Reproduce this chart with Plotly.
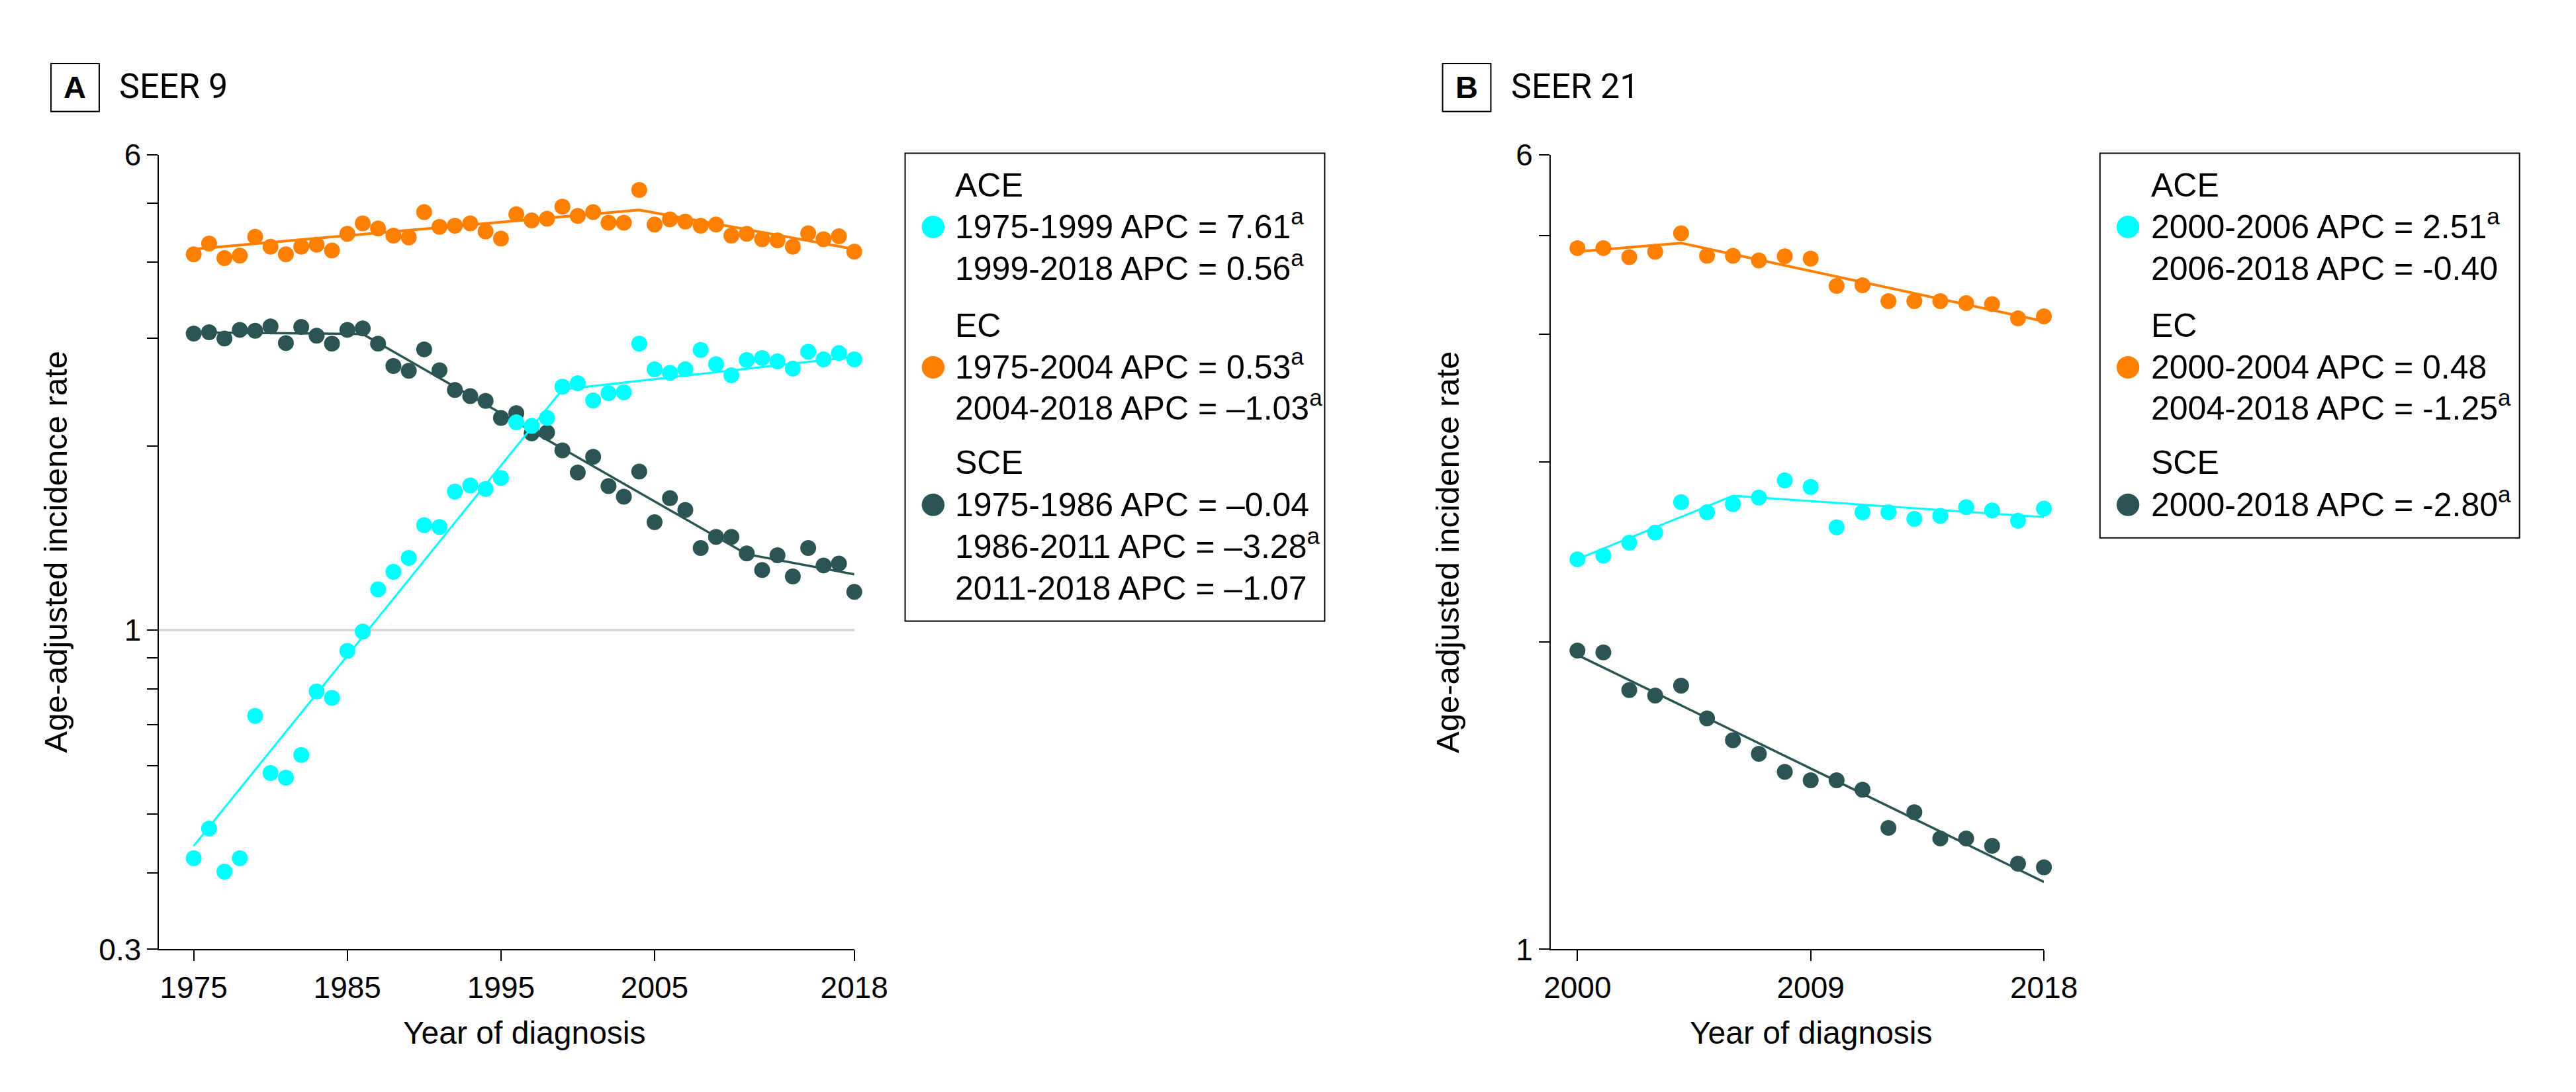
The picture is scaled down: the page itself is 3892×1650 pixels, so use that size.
import math
import plotly.graph_objects as go

W, H = 3892, 1650

# ---------------- data ----------------
years_a = list(range(1975, 2019))
ace_a = [0.423, 0.473, 0.402, 0.423, 0.723, 0.583, 0.573, 0.624, 0.793, 0.774,
         0.924, 0.994, 1.165, 1.245, 1.312, 1.484, 1.474, 1.684, 1.724, 1.701,
         1.773, 2.187, 2.157, 2.223, 2.502, 2.534, 2.375, 2.441, 2.449, 2.942,
         2.670, 2.635, 2.670, 2.872, 2.722, 2.612, 2.766, 2.787, 2.752, 2.678,
         2.854, 2.772, 2.839, 2.772]
ec_a = [4.12, 4.29, 4.06, 4.10, 4.40, 4.24, 4.12, 4.24, 4.27, 4.18,
        4.45, 4.63, 4.54, 4.42, 4.39, 4.83, 4.57, 4.59, 4.63, 4.49,
        4.37, 4.79, 4.68, 4.71, 4.93, 4.76, 4.83, 4.64, 4.64, 5.25,
        4.61, 4.70, 4.66, 4.59, 4.61, 4.42, 4.45, 4.36, 4.34, 4.24,
        4.46, 4.36, 4.41, 4.16]
sce_a = [3.055, 3.071, 2.999, 3.098, 3.088, 3.139, 2.948, 3.132, 3.031, 2.942,
         3.098, 3.115, 2.942, 2.704, 2.655, 2.879, 2.661, 2.470, 2.414, 2.371,
         2.223, 2.264, 2.098, 2.105, 1.967, 1.810, 1.920, 1.719, 1.652, 1.816,
         1.501, 1.643, 1.572, 1.362, 1.420, 1.420, 1.334, 1.253, 1.325, 1.223,
         1.362, 1.275, 1.284, 1.154]

# joinpoint fitted lines (joinpoint years and fitted values)
ace_a_fit_x = [1975, 1999, 2018]
ace_a_fit_y = [0.443, 2.475, 2.80]
ec_a_fit_x = [1975, 2004, 2018]
ec_a_fit_y = [4.20, 4.87, 4.20]
sce_a_fit_x = [1975, 1986, 2011, 2018]
sce_a_fit_y = [3.07, 3.05, 1.33, 1.233]

years_b = list(range(2000, 2019))
ace_b = [2.409, 2.429, 2.501, 2.559, 2.740, 2.679, 2.728, 2.769, 2.879, 2.836,
         2.589, 2.679, 2.679, 2.639, 2.657, 2.710, 2.690, 2.628, 2.701]
ec_b = [4.859, 4.859, 4.762, 4.818, 5.024, 4.775, 4.775, 4.726, 4.771, 4.745,
        4.462, 4.468, 4.311, 4.311, 4.311, 4.292, 4.283, 4.147, 4.166]
sce_b = [1.961, 1.953, 1.794, 1.772, 1.812, 1.683, 1.602, 1.554, 1.492, 1.464,
         1.464, 1.433, 1.315, 1.362, 1.284, 1.284, 1.263, 1.213, 1.203]

ace_b_fit_x = [2000, 2006, 2018]
ace_b_fit_y = [2.41, 2.78, 2.65]
ec_b_fit_x = [2000, 2004, 2018]
ec_b_fit_y = [4.82, 4.915, 4.12]
sce_b_fit_x = [2000, 2018]
sce_b_fit_y = [1.942, 1.164]

xticks_a = [1975, 1985, 1995, 2005, 2018]
xticks_b = [2000, 2009, 2018]
yticks_a = [0.3, 1, 6]
yticks_a_text = ["0.3", "1", "6"]
yminor_a = [0.4, 0.5, 0.6, 0.7, 0.8, 0.9, 2, 3, 4, 5]
yticks_b = [1, 6]
yticks_b_text = ["1", "6"]
yminor_b = [2, 3, 4, 5]

legend_a = [
    ("ACE", ["1975-1999 APC = 7.61<sup>a</sup>", "1999-2018 APC = 0.56<sup>a</sup>"]),
    ("EC", ["1975-2004 APC = 0.53<sup>a</sup>", "2004-2018 APC = \u20131.03<sup>a</sup>"]),
    ("SCE", ["1975-1986 APC = \u20130.04", "1986-2011 APC = \u20133.28<sup>a</sup>",
             "2011-2018 APC = \u20131.07"]),
]
legend_b = [
    ("ACE", ["2000-2006 APC = 2.51<sup>a</sup>", "2006-2018 APC = -0.40"]),
    ("EC", ["2000-2004 APC = 0.48", "2004-2018 APC = -1.25<sup>a</sup>"]),
    ("SCE", ["2000-2018 APC = -2.80<sup>a</sup>"]),
]

# ---------------- style ----------------
CYAN = "#00FFFF"
ORANGE = "#FF8000"
TEAL = "#2A5553"
GRID = "#D9D9D9"
FONT = "Liberation Sans, Arial, sans-serif"
TITLEFONT = "Roboto, Liberation Sans, Arial, sans-serif"


def px(x):
    return x / W


def py(y):
    return 1 - y / H


fig = go.Figure()

MS = 24


def add_series(xs, ys, fx, fy, color, lw, xa, ya):
    fig.add_trace(go.Scatter(x=xs, y=ys, mode="markers", xaxis=xa, yaxis=ya,
                             marker=dict(size=MS, color=color, line=dict(width=0)),
                             cliponaxis=False, showlegend=False, hoverinfo="skip"))
    fig.add_trace(go.Scatter(x=fx, y=fy, mode="lines", xaxis=xa, yaxis=ya,
                             line=dict(color=color, width=lw),
                             cliponaxis=False, showlegend=False, hoverinfo="skip"))


add_series(years_a, ec_a, ec_a_fit_x, ec_a_fit_y, ORANGE, 4, "x", "y")
add_series(years_a, sce_a, sce_a_fit_x, sce_a_fit_y, TEAL, 3.5, "x", "y")
add_series(years_a, ace_a, ace_a_fit_x, ace_a_fit_y, CYAN, 3, "x", "y")

add_series(years_b, ec_b, ec_b_fit_x, ec_b_fit_y, ORANGE, 4, "x2", "y2")
add_series(years_b, sce_b, sce_b_fit_x, sce_b_fit_y, TEAL, 3.5, "x2", "y2")
add_series(years_b, ace_b, ace_b_fit_x, ace_b_fit_y, CYAN, 3, "x2", "y2")

TICKFONT = dict(family=FONT, size=46, color="black")


def xaxis_cfg(dom, rng, tv, anchor):
    return dict(domain=dom, range=rng, tickvals=tv, ticktext=[str(t) for t in tv],
                ticks="outside", ticklen=16, tickwidth=2, tickcolor="black",
                showline=True, linewidth=2, linecolor="black", showgrid=False,
                zeroline=False, anchor=anchor, tickfont=TICKFONT, fixedrange=True)


def yaxis_cfg(dom, rng, tv, tt, minor, anchor):
    return dict(type="log", domain=dom, range=rng, tickvals=tv, ticktext=tt,
                ticks="outside", ticklen=16, tickwidth=2, tickcolor="black",
                showline=True, linewidth=2, linecolor="black",
                showgrid=True, gridcolor=GRID, gridwidth=4, zeroline=False,
                minor=dict(tickvals=minor, ticks="outside", ticklen=16, tickwidth=2,
                           tickcolor="black", showgrid=False),
                anchor=anchor, tickfont=TICKFONT, fixedrange=True)


ydom = [py(1446), py(206)]
fig.update_layout(
    xaxis=xaxis_cfg([px(226), px(1293)], [1972.75, 2018], xticks_a, "y"),
    yaxis=yaxis_cfg(ydom, [math.log10(0.3), math.log10(6)], yticks_a, yticks_a_text, yminor_a, "x"),
    xaxis2=xaxis_cfg([px(2362), px(3119)], [1998.97, 2018], xticks_b, "y2"),
    yaxis2=yaxis_cfg(ydom, [0, math.log10(6)], yticks_b, yticks_b_text, yminor_b, "x2"),
)

annotations = []
shapes = []


def text(x, y, s, size, family=FONT, xanchor="left", yanchor="bottom", angle=0):
    annotations.append(dict(x=px(x), y=py(y), xref="paper", yref="paper", text=s,
                            showarrow=False, xanchor=xanchor, yanchor=yanchor,
                            textangle=angle, borderpad=0,
                            font=dict(family=family, size=size, color="black")))


# panel labels
for (bx0, bx1, letter, tx, title) in [(60, 134, "A", 164, "SEER 9"),
                                      (2196, 2270, "B", 2300, "SEER 21")]:
    shapes.append(dict(type="rect", xref="paper", yref="paper",
                       x0=px(bx0), x1=px(bx1), y0=py(139), y1=py(64),
                       line=dict(color="black", width=2), fillcolor="rgba(0,0,0,0)"))
    text((bx0 + bx1) / 2, 119 + 10, "<b>%s</b>" % letter, 47, xanchor="center")
    text(tx, 121 + 11, title, 52, family=TITLEFONT)

# axis titles
for (ycx, xtc) in [(67.5, 787), (2203.5, 2762)]:
    text(ycx, 826, "Age-adjusted incidence rate", 49, xanchor="center",
         yanchor="middle", angle=-90)
    text(xtc, 1605, "Year of diagnosis", 48, xanchor="center")

# legends
baselines = [273, 338, 403.5, 492, 557.5, 621, 706.5, 772, 837, 902]
marker_y = [319, 538, 752.5]
colors = [CYAN, ORANGE, TEAL]
LFS = 50


def legend(entries, box, mx, tx):
    x0, y0, x1, y1 = box
    shapes.append(dict(type="rect", xref="paper", yref="paper",
                       x0=px(x0), x1=px(x1), y0=py(y1), y1=py(y0),
                       line=dict(color="black", width=2), fillcolor="white",
                       layer="below"))
    k = 0
    for gi, (name, lines) in enumerate(entries):
        text(tx, baselines[k] + 10.5, name, LFS)
        k += 1
        for ln in lines:
            text(tx, baselines[k] + 10.5, ln, LFS)
            k += 1
        r = 17.5
        shapes.append(dict(type="circle", xref="paper", yref="paper",
                           x0=px(mx - r), x1=px(mx + r),
                           y0=py(marker_y[gi] + r), y1=py(marker_y[gi] - r),
                           line=dict(width=0), fillcolor=colors[gi]))


legend(legend_a, (1371, 204, 2015, 934), 1414, 1447)
legend(legend_b, (3205, 204, 3849, 804), 3248, 3282)

fig.update_layout(
    width=W, height=H,
    margin=dict(l=0, r=0, t=0, b=0),
    paper_bgcolor="white", plot_bgcolor="white",
    font=dict(family=FONT, color="black"),
    showlegend=False,
    annotations=annotations, shapes=shapes,
)

fig.write_html("out.html")
